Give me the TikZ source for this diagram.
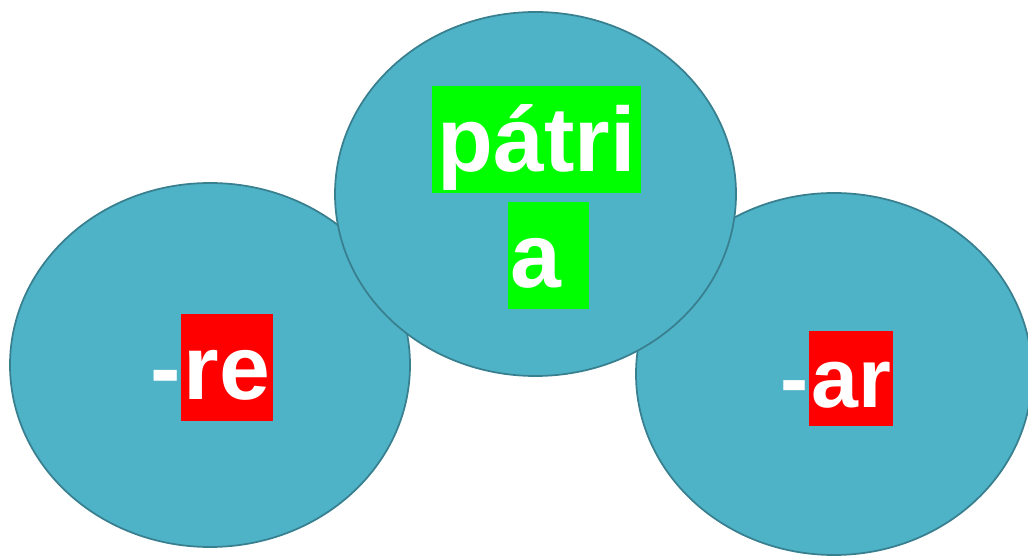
\documentclass[tikz,border=0pt]{standalone}
\usepackage{fontspec}
\setmainfont{Liberation Sans}
\usepackage{tikz}
\definecolor{bubblefill}{RGB}{79,179,200}
\definecolor{bubbleline}{RGB}{56,128,143}
\definecolor{hlgreen}{RGB}{0,255,0}
\definecolor{hlred}{RGB}{255,0,0}
\tikzset{
  bubble/.style={fill=bubblefill, draw=bubbleline, line width=1pt},
  word/.style={text=white, font=\fontsize{52}{60}\selectfont\bfseries,
    inner ysep=0pt, inner xsep=1.5pt, text height=49pt, text depth=12pt},
  smallword/.style={word, font=\fontsize{48}{56}\selectfont\bfseries,
    inner xsep=1pt, text height=44pt, text depth=10pt},
}
\begin{document}
\begin{tikzpicture}
    \useasboundingbox (0,0) rectangle (20.56,11.12);
    % Left and right bubbles
    \draw [bubble] (4.2,3.82) ellipse [x radius=4.0, y radius=3.64];
    \draw [bubble] (16.68,3.64) ellipse [x radius=3.96, y radius=3.62];
    % Middle bubble on top
    \draw [bubble] (10.71,7.24) ellipse [x radius=4.01, y radius=3.64];
    % Stem
    \node [word, fill=hlgreen, anchor=base west, inner xsep=3pt] (stem) at (8.64,7.68) {pátri};
    \node [word, fill=hlgreen, anchor=base west] (stemend) at (10.16,5.36) {\makebox[43pt][l]{a}};
    % Left ending
    \node [word, fill=hlred, anchor=base west] (endre) at (3.62,3.12) {re};
    \node [word, anchor=base east, inner xsep=0pt] (dashre) at (endre.base west) {-};
    % Right ending
    \node [smallword, fill=hlred, anchor=base west] (endar) at (16.18,2.96) {ar};
    \node [smallword, anchor=base east, inner xsep=0pt] (dashar) at (endar.base west) {-};
\end{tikzpicture}
\end{document}
